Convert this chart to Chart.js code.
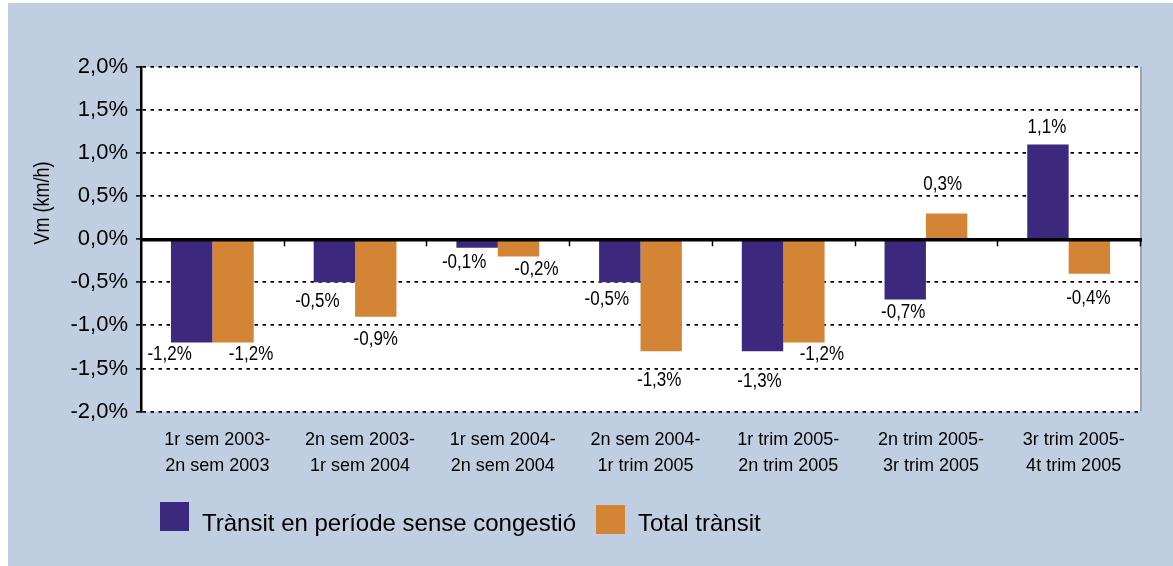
<!DOCTYPE html>
<html>
<head>
<meta charset="utf-8">
<title>Vm (km/h)</title>
<script src="https://cdn.jsdelivr.net/npm/chart.js@4.4.0/dist/chart.umd.min.js"></script>
<style>
  html, body { margin: 0; padding: 0; background: #fff; }
  #wrap { width: 1173px; height: 566px; }
</style>
</head>
<body>
<div id="wrap"><canvas id="myChart" width="1173" height="566"></canvas></div>
<script>
// data
var categories = [
  ['1r sem 2003-', '2n sem 2003'],
  ['2n sem 2003-', '1r sem 2004'],
  ['1r sem 2004-', '2n sem 2004'],
  ['2n sem 2004-', '1r trim 2005'],
  ['1r trim 2005-', '2n trim 2005'],
  ['2n trim 2005-', '3r trim 2005'],
  ['3r trim 2005-', '4t trim 2005']
];
var seriesNames = ['Trànsit en període sense congestió', 'Total trànsit'];
var sinCongestio = [-1.2, -0.5, -0.1, -0.5, -1.3, -0.7, 1.1];
var totalTransit = [-1.2, -0.9, -0.2, -1.3, -1.2, 0.3, -0.4];
var yTickValues = [-2, -1.5, -1, -0.5, 0, 0.5, 1, 1.5, 2];
var yTitle = 'Vm (km/h)';

// hand placed value labels in the original: [dx, dy away from bar end]
var labelNudges = [
  [[-22, 12], [-17, 19], [-13, 15], [-13, 17], [-3, 30], [-2, 13], [-1, 17]],
  [[18, 12], [0, 23], [18, 13], [-2, 29], [18, 12], [-4, 29], [-1, 25]]
];

var colors = ['#3c287c', '#d38535'];
var sans = '"Liberation Sans", Arial, sans-serif';

function fmt(v) {
  return v.toFixed(1).replace('.', ',') + '%';
}

// no condensed face installed, so squeeze the text a bit by hand
function narrowText(ctx, txt, x, y, squeeze) {
  ctx.save();
  ctx.translate(x, y);
  ctx.scale(squeeze, 1);
  ctx.fillText(txt, 0, 0);
  ctx.restore();
}

var chartDecor = {
  id: 'chartDecor',
  beforeDraw: function(chart) {
    var ctx = chart.ctx, a = chart.chartArea;
    ctx.save();
    ctx.fillStyle = '#ffffff';
    ctx.fillRect(0, 0, chart.width, chart.height);
    ctx.fillStyle = '#bfcfe1';
    ctx.fillRect(8, 3, chart.width - 8, chart.height - 3);
    ctx.fillStyle = '#ffffff';
    ctx.fillRect(a.left, a.top, a.right - a.left, a.bottom - a.top);
    ctx.restore();
  },
  afterDatasetsDraw: function(chart) {
    var ctx = chart.ctx, a = chart.chartArea;
    var xs = chart.scales.x, ys = chart.scales.y;
    var y0 = ys.getPixelForValue(0);
    ctx.save();

    // grey edge on the right of the plot
    ctx.fillStyle = '#9ea6b0';
    ctx.fillRect(a.right, a.top, 2, a.bottom - a.top);

    // zero line + little ticks between categories
    ctx.strokeStyle = '#000';
    ctx.lineWidth = 3.5;
    ctx.beginPath();
    ctx.moveTo(a.left, y0 + 0.5);
    ctx.lineTo(a.right + 2, y0 + 0.5);
    ctx.stroke();
    ctx.lineWidth = 1.5;
    for (var i = 1; i <= categories.length; i++) {
      var px = Math.round(xs.getPixelForValue(i - 0.5)) + 0.5;
      ctx.beginPath();
      ctx.moveTo(px, y0);
      ctx.lineTo(px, y0 + 7);
      ctx.stroke();
    }

    // value labels
    ctx.fillStyle = '#000';
    ctx.font = '20px ' + sans;
    ctx.textAlign = 'center';
    ctx.textBaseline = 'middle';
    chart.data.datasets.forEach(function(ds, di) {
      var meta = chart.getDatasetMeta(di);
      meta.data.forEach(function(bar, j) {
        var v = ds.data[j];
        var n = labelNudges[di][j];
        var ty = v < 0 ? bar.y + n[1] : bar.y - n[1];
        narrowText(ctx, fmt(v), bar.x + n[0], ty, 0.85);
      });
    });
    ctx.restore();
  },
  afterDraw: function(chart) {
    var ctx = chart.ctx;
    ctx.save();
    // y axis title
    ctx.fillStyle = '#000';
    ctx.translate(43, 203);
    ctx.rotate(-Math.PI / 2);
    ctx.font = '22px ' + sans;
    ctx.textAlign = 'center';
    ctx.textBaseline = 'middle';
    narrowText(ctx, yTitle, 0, 0, 0.82);
    ctx.restore();

    // legend
    var boxes = [[160, 502], [596, 505]];
    ctx.save();
    ctx.font = '24px ' + sans;
    ctx.textAlign = 'left';
    ctx.textBaseline = 'alphabetic';
    chart.data.datasets.forEach(function(ds, di) {
      var b = boxes[di];
      ctx.fillStyle = ds.backgroundColor;
      ctx.fillRect(b[0], b[1], 29, 29);
      ctx.fillStyle = '#000';
      ctx.fillText(ds.label, b[0] + 42, 531);
    });
    ctx.restore();
  }
};

var ctx = document.getElementById('myChart').getContext('2d');
var myChart = new Chart(ctx, {
  type: 'bar',
  data: {
    labels: categories,
    datasets: [
      { label: seriesNames[0], data: sinCongestio, backgroundColor: colors[0],
        barPercentage: 1, categoryPercentage: 0.58 },
      { label: seriesNames[1], data: totalTransit, backgroundColor: colors[1],
        barPercentage: 1, categoryPercentage: 0.58 }
    ]
  },
  options: {
    responsive: false,
    animation: false,
    layout: { padding: { top: 67, left: 0, right: 33, bottom: 84.5 } },
    plugins: {
      legend: { display: false },
      tooltip: { enabled: false }
    },
    scales: {
      x: {
        grid: { display: false },
        border: { display: false },
        ticks: {
          color: '#000',
          font: { family: sans, size: 18, lineHeight: 1.45 },
          padding: 7,
          labelOffset: 5,
          maxRotation: 0,
          autoSkip: false
        },
        afterFit: function(scale) { scale.height = 70; }
      },
      y: {
        min: -2,
        max: 2,
        afterBuildTicks: function(scale) {
          scale.ticks = yTickValues.map(function(v) { return { value: v }; });
        },
        ticks: {
          color: '#000',
          font: { family: sans, size: 22 },
          padding: 8,
          callback: function(v) { return fmt(v); }
        },
        grid: {
          color: '#000',
          lineWidth: 1.8,
          tickLength: 5,
          tickColor: '#000',
          tickWidth: 1.5,
          tickBorderDash: []
        },
        border: { display: true, color: '#000', width: 2.5, dash: [3.5, 4.5] },
        afterFit: function(scale) { scale.width = 141; }
      }
    }
  },
  plugins: [chartDecor]
});
</script>
</body>
</html>
